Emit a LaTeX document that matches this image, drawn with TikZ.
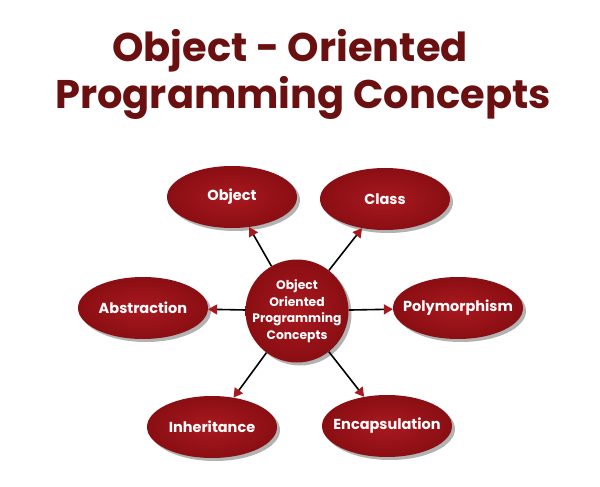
\documentclass[tikz,border=0pt]{standalone}
\usepackage{fontspec}
\setmainfont{Poppins}
\usetikzlibrary{arrows.meta,shadows,shapes.geometric}
\definecolor{ooRed}{HTML}{A8191F}
\definecolor{ooDark}{HTML}{8A0E13}
\definecolor{titleRed}{HTML}{6B1010}
\tikzset{
  concept/.style={ellipse,inner color=ooRed,outer color=ooDark,text=white,inner xsep=-12pt,inner ysep=0pt,
    minimum width=130pt,minimum height=62pt,font=\fontsize{14.5}{17}\selectfont\bfseries,
    drop shadow={shadow xshift=3pt,shadow yshift=-3pt,opacity=0.3,fill=black}},
  link/.style={-{Triangle[length=9pt,width=10pt,color=ooRed,fill=ooRed]},line width=1.6pt,black}
}
\begin{document}
\begin{tikzpicture}[x=1pt,y=-1pt]
  \useasboundingbox[fill=white] (0,0) rectangle (600,487);

  % title
  \node[text=titleRed,font=\fontsize{40}{46}\selectfont\bfseries] (title1) at (290,51) {Object - Oriented};
  \node[text=titleRed,font=\fontsize{40}{46}\selectfont\bfseries] (title2) at (303,98) {Programming Concepts};

  % hub and concepts
  \node[circle,inner color=ooRed,outer color=ooDark,text=white,inner sep=-8pt,minimum size=103pt,align=center,
    font=\fontsize{12.3}{16.5}\selectfont\bfseries,
    drop shadow={shadow xshift=3pt,shadow yshift=-3pt,opacity=0.3,fill=black}]
    (hub) at (297,311) {Object\\Oriented\\Programming\\Concepts};
  \node[concept] (obj) at (232,197) {Object};
  \node[concept] (cls) at (385,199) {Class};
  \node[concept] (abs) at (143,308) {Abstraction};
  \node[concept] (poly) at (458,308) {Polymorphism};
  \node[concept] (inh) at (212,427) {Inheritance};
  \node[concept] (enc) at (387,426) {Encapsulation};

  \draw[link] (hub) -- (obj);
  \draw[link] (hub) -- (cls);
  \draw[link] (hub) -- (abs);
  \draw[link] (hub) -- (poly);
  \draw[link] (hub) -- (inh);
  \draw[link] (hub) -- (enc);
\end{tikzpicture}
\end{document}
